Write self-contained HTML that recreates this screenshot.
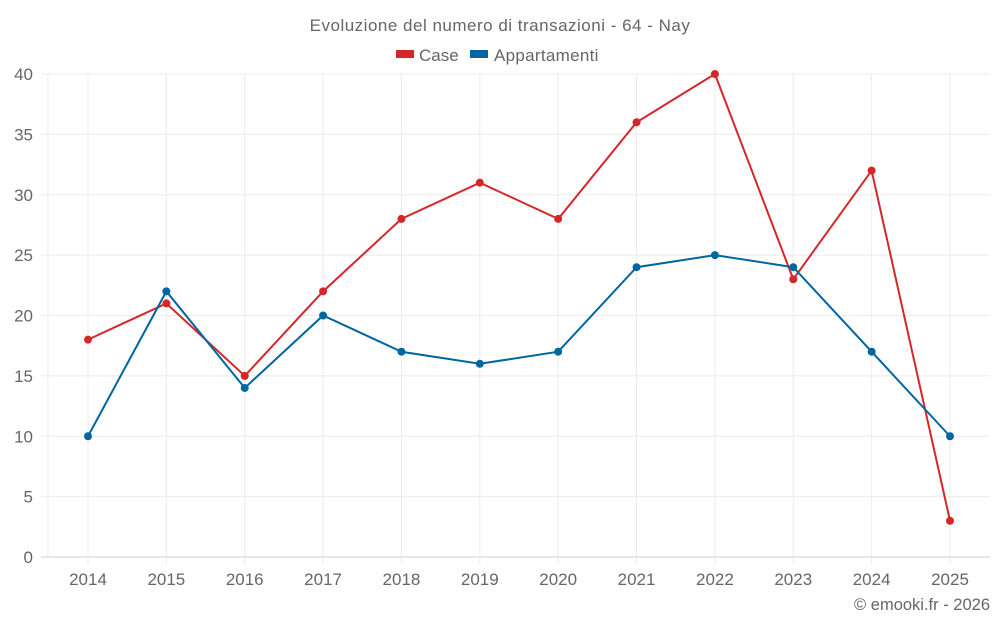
<!DOCTYPE html>
<html><head><meta charset="utf-8"><style>
body{margin:0;background:#fff;font-family:"Liberation Sans",sans-serif;}
svg text{font-family:"Liberation Sans",sans-serif;fill:#666;}
</style></head><body>
<svg id="chart" width="1000" height="625" xmlns="http://www.w3.org/2000/svg">
<text x="500" y="31" text-anchor="middle" font-size="17" letter-spacing="0.5">Evoluzione del numero di transazioni - 64 - Nay</text>
<g>
<rect x="396" y="50" width="18" height="8" fill="#d62728"/>
<text x="419" y="61" font-size="17">Case</text>
<rect x="470" y="50" width="18" height="8" fill="#0066a0"/>
<text x="494" y="61" font-size="17" letter-spacing="0.3">Appartamenti</text>
</g>
<g id="grid"></g>
<g id="axes"></g>
<g id="series"></g>
<text x="990" y="610" text-anchor="end" font-size="16.5">© emooki.fr - 2026</text>
</svg>
<script>
const years=['2014','2015','2016','2017','2018','2019','2020','2021','2022','2023','2024','2025'];
const caseVals=[18,21,15,22,28,31,28,36,40,23,32,3];
const appVals=[10,22,14,20,17,16,17,24,25,24,17,10];
const yTicks=[0,5,10,15,20,25,30,35,40];
const NS='http://www.w3.org/2000/svg';
const x0=88,x1=950,y0=557,y40=74,left=48,right=990;
const xs=i=>x0+i*(x1-x0)/(years.length-1);
const ys=v=>y0-v*(y0-y40)/40;
function mk(t,a,p){const e=document.createElementNS(NS,t);for(const k in a)e.setAttribute(k,a[k]);p.appendChild(e);return e;}
const grid=document.getElementById('grid'),axes=document.getElementById('axes'),ser=document.getElementById('series');
yTicks.forEach(v=>{
 const l=mk('line',{x1:41,x2:right,y1:ys(v),y2:ys(v),stroke:v===0?'#ccc':'#ebebeb','stroke-width':1},grid);
 
 
 const t=mk('text',{x:33,y:ys(v)+6,'text-anchor':'end','font-size':17},axes);t.textContent=v;
 
 
});
const lv=mk('line',{x1:left,x2:left,y1:y40,y2:y0,stroke:'#ebebeb'},grid);


years.forEach((y,i)=>{
 const l=mk('line',{x1:xs(i),x2:xs(i),y1:y40,y2:y0+7,stroke:'#ebebeb'},grid);
 
 
 const t=mk('text',{x:xs(i),y:585,'text-anchor':'middle','font-size':17},axes);t.textContent=y;
 
 
});
function draw(vals,color,name){
 const p=mk('polyline',{points:vals.map((v,i)=>xs(i)+','+ys(v)).join(' '),fill:'none',stroke:color,'stroke-width':2},ser);
 
 
 vals.forEach((v,i)=>{
  const c=mk('circle',{cx:xs(i),cy:ys(v),r:4,fill:color},ser);
  
  
 });
}
draw(caseVals,'#d62728','case');
draw(appVals,'#0066a0','appartamenti');
</script>
</body></html>
